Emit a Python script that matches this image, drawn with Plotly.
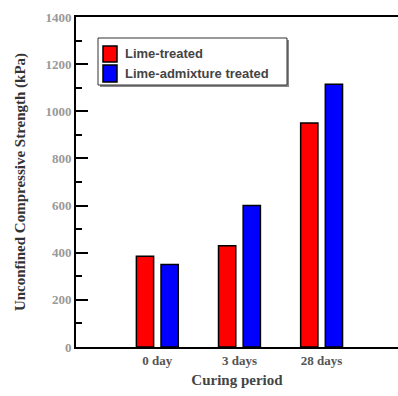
import plotly.graph_objects as go

categories = ["0 day", "3 days", "28 days"]
lime_treated = [385, 430, 950]
lime_admixture = [350, 600, 1115]
series_names = ["Lime-treated", "Lime-admixture treated"]
series_colors = ["#FF0000", "#0000FF"]
y_ticks = [0, 200, 400, 600, 800, 1000, 1200, 1400]

W, H = 398, 396
ML, MR, MT, MB = 76, 0, 17, 49
PW, PH = W - ML - MR, H - MT - MB


def px_x(x):
    return (x - ML) / PW


def px_y(y):
    return (H - MB - y) / PH


fig = go.Figure()
for name, vals, col in zip(series_names, [lime_treated, lime_admixture], series_colors):
    fig.add_trace(go.Bar(
        x=categories, y=vals, name=name,
        marker=dict(color=col, line=dict(color="black", width=1.5)),
        showlegend=False,
    ))

fig.update_layout(
    width=W, height=H,
    margin=dict(l=ML, r=MR, t=MT, b=MB, autoexpand=False),
    paper_bgcolor="white", plot_bgcolor="white",
    barmode="group", bargap=0.4, bargroupgap=0.3,
    xaxis=dict(
        type="category", range=[-0.99, 2.93], automargin=False,
        tickvals=categories, ticktext=["<b>%s</b>" % c for c in categories],
        showline=True, linecolor="black", linewidth=2, mirror=True,
        ticks="", showgrid=False, zeroline=False,
        tickfont=dict(family="Liberation Serif", size=13, color="#555555"),
        title=dict(text="<b>Curing period</b>", standoff=8,
                   font=dict(family="Liberation Serif", size=15, color="#444444")),
    ),
    yaxis=dict(
        range=[0, 1400], tickvals=y_ticks, ticktext=["<b>%d</b>" % v for v in y_ticks],
        automargin=False,
        showline=True, linecolor="black", linewidth=2, mirror=False,
        ticks="inside", ticklen=12, tickwidth=2, tickcolor="black",
        minor=dict(ticks="inside", ticklen=6, tickwidth=2, tickcolor="black", dtick=100, tick0=0, showgrid=False),
        showgrid=False, zeroline=False,
        tickfont=dict(family="Liberation Serif", size=13, color="#999999"),
        title=dict(text="<b>Unconfined Compressive Strength (kPa)</b>", standoff=16,
                   font=dict(family="Liberation Serif", size=15, color="#333333")),
    ),
    yaxis2=dict(
        overlaying="y", side="right", range=[0, 1400], tickvals=y_ticks, automargin=False,
        showticklabels=False, showline=False, showgrid=False, zeroline=False,
        ticks="inside", ticklen=4, tickwidth=2, tickcolor="black",
    ),
)

# Legend drawn manually (box with shadow, swatches, labels), positions in window pixels
shapes = []
shapes.append(dict(type="rect", xref="paper", yref="paper",
                   x0=px_x(100), x1=px_x(289), y0=px_y(87), y1=px_y(40),
                   fillcolor="#888888", line=dict(width=0), layer="above"))
shapes.append(dict(type="rect", xref="paper", yref="paper",
                   x0=px_x(98), x1=px_x(287), y0=px_y(85), y1=px_y(38),
                   fillcolor="white", line=dict(color="#333333", width=1), layer="above"))
sw_y = [(46, 62), (65, 82)]
for (y0, y1), col, name in zip(sw_y, series_colors, series_names):
    shapes.append(dict(type="rect", xref="paper", yref="paper",
                       x0=px_x(103), x1=px_x(117), y0=px_y(y1), y1=px_y(y0),
                       fillcolor=col, line=dict(color="black", width=1.5), layer="above"))
    fig.add_annotation(x=px_x(123), y=px_y((y0 + y1) / 2), xref="paper", yref="paper",
                       text="<b>%s</b>" % name, showarrow=False, xanchor="left", yanchor="middle",
                       font=dict(family="Liberation Sans", size=13, color="#444444"))
fig.update_layout(shapes=shapes)

fig.write_html(
    "out.html",
    config={"displayModeBar": False},
    post_script="document.documentElement.style.margin='0';document.body.style.margin='0';"
                "document.body.style.padding='0';document.body.style.overflow='hidden';"
                "document.documentElement.style.overflow='hidden';"
                "window.dispatchEvent(new Event('resize'));",
)
